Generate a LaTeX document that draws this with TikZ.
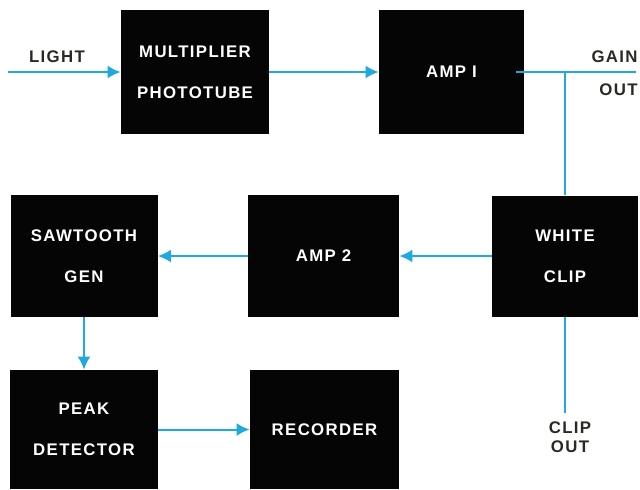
\documentclass[tikz,border=0pt]{standalone}
\usepackage{fontspec}
\setmainfont{Liberation Sans}
\newfontfamily\blocklbl[LetterSpace=8]{Liberation Sans}
\usepackage{xcolor,tikz}
\usetikzlibrary{arrows.meta}
\definecolor{wire}{HTML}{1FA9DD}
\definecolor{ink}{HTML}{050505}
\definecolor{note}{HTML}{2A2A22}
\begin{document}
\begin{tikzpicture}[x=0.5pt,y=-0.5pt,
font=\blocklbl\bfseries\fontsize{8.4}{20.5}\selectfont,
box/.style={fill=ink,text=white,minimum width=74pt,minimum height=62pt,
inner sep=0pt,align=center},
lbl/.style={text=note,inner sep=0pt},
conn/.style={line width=1pt,color=wire},
arr/.style={conn,-{Latex[length=6.5pt,width=6.5pt]}}]
\useasboundingbox (0,0) rectangle (640,489);
\node[box] (mult) at (195,72) {MULTIPLIER\\PHOTOTUBE};
\node[box,minimum width=72.5pt] (amp1) at (451.5,72) {AMP I};
\node[box,minimum width=73.5pt,minimum height=61pt] (saw) at (84,256) {SAWTOOTH\\GEN};
\node[box,minimum width=75.5pt,minimum height=61pt] (amp2) at (323.5,256) {AMP 2};
\node[box,minimum width=73pt,minimum height=60.5pt] (white) at (565,256) {WHITE\\CLIP};
\node[box,minimum height=59.5pt] (peak) at (84,429.5) {PEAK\\DETECTOR};
\node[box,minimum width=74.5pt,minimum height=59.5pt] (rec) at (324.5,429.5) {RECORDER};
\node[lbl] (light) at (57,57) {LIGHT};
\node[lbl,anchor=east] (gain) at (638,57) {GAIN};
\node[lbl,anchor=east] (gout) at (638,90) {OUT};
\node[lbl,align=center,font=\blocklbl\bfseries\fontsize{8.4}{9.5}\selectfont] (clip) at (570,437) {CLIP\\OUT};
\coordinate (lightin) at (8,72);
\coordinate (gainend) at (636,72);
\coordinate (tap) at (white.north |- amp1.east);
\coordinate (clipend) at (565,413);
\draw[arr] (lightin) -- (mult);
\draw[arr] (mult) -- (amp1);
\draw[conn] ([xshift=-4pt]amp1.east) -- (gainend);
\draw[conn] (tap) -- (white);
\draw[arr] (white) -- (amp2);
\draw[arr] (amp2) -- (saw);
\draw[arr] (saw) -- (peak);
\draw[arr] (peak) -- (rec);
\draw[conn] (white) -- (clipend);
\end{tikzpicture}
\end{document}
